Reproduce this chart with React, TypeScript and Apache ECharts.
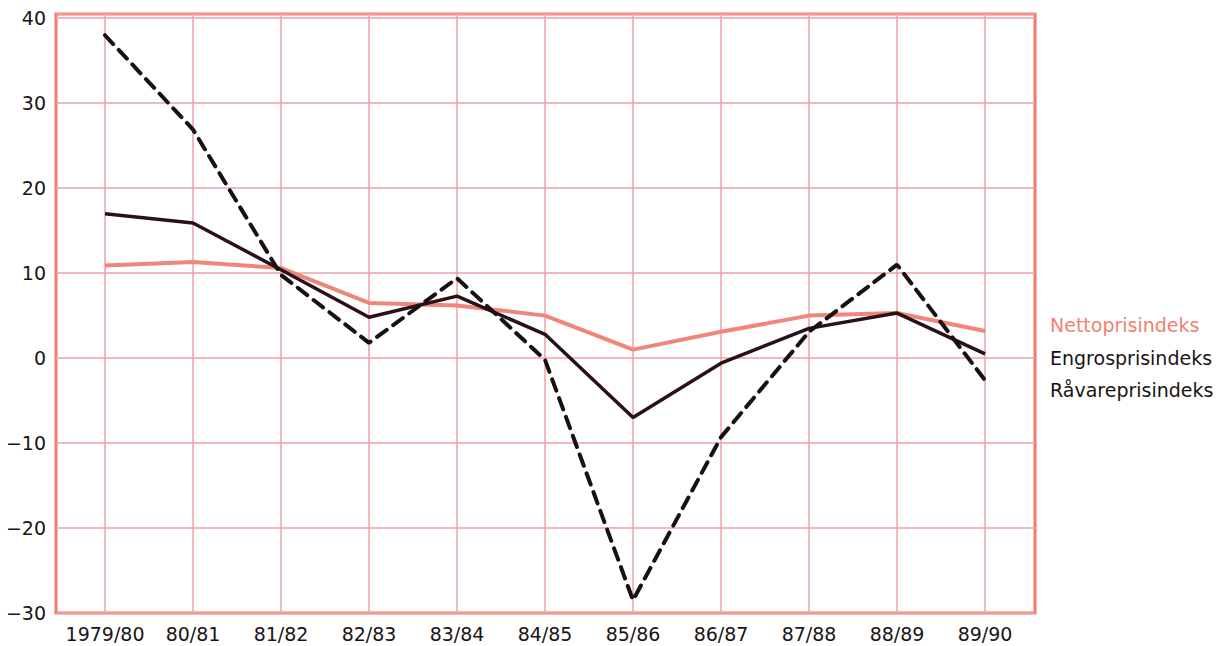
import React, { useEffect, useRef } from "react";
import * as echarts from "echarts";

const categories = ["1979/80", "80/81", "81/82", "82/83", "83/84", "84/85", "85/86", "86/87", "87/88", "88/89", "89/90"];
const nettoprisindeks = [10.9, 11.3, 10.6, 6.5, 6.2, 5.0, 1.0, 3.1, 5.0, 5.3, 3.2];
const engrosprisindeks = [17.0, 15.9, 10.4, 4.8, 7.3, 2.8, -7.0, -0.6, 3.5, 5.3, 0.5];
const raavareprisindeks = [38.0, 26.9, 9.8, 1.8, 9.4, -0.2, -28.5, -9.3, 3.1, 11.0, -2.6];
const seriesNames = ["Nettoprisindeks", "Engrosprisindeks", "Råvareprisindeks"];
const yTicks = [-30, -20, -10, 0, 10, 20, 30, 40];

const FONT = "'DejaVu Sans', sans-serif";

export default function App() {
  const ref = useRef<HTMLDivElement>(null);
  useEffect(() => {
    if (!ref.current) return;
    const chart = echarts.init(ref.current, undefined, { renderer: "svg" });
    const idx = categories.map((_, i) => i);
    const toPairs = (arr: number[]) => arr.map((v, i) => [i, v]);
    chart.setOption({
      animation: false,
      backgroundColor: "#ffffff",
      grid: {
        left: 56,
        right: 181,
        top: 14,
        bottom: 33,
        show: true,
        borderColor: "#f27a68",
        borderWidth: 3,
        backgroundColor: "transparent",
      },
      xAxis: {
        type: "value",
        min: -0.557,
        max: 10.568,
        axisLine: { show: false },
        axisTick: { show: false, customValues: idx },
        splitLine: { show: true, lineStyle: { color: "#eba3a6", width: 1.5 } },
        axisLabel: {
          customValues: idx,
          formatter: (v: number) => categories[Math.round(v)] ?? "",
          color: "#1a1414",
          fontSize: 19,
          fontFamily: FONT,
          margin: 11,
        },
      },
      yAxis: {
        type: "value",
        min: yTicks[0],
        max: 40.5,
        interval: 10,
        axisLine: { show: false },
        axisTick: { show: false },
        splitLine: { show: true, lineStyle: { color: "#eba3a6", width: 1.5 } },
        axisLabel: {
          showMaxLabel: false,
          formatter: (v: number) => (v < 0 ? "\u2212" + Math.abs(v) : String(v)),
          color: "#1a1414",
          fontSize: 19,
          fontFamily: FONT,
          margin: 10,
        },
      },
      legend: {
        orient: "vertical",
        left: 1040,
        top: 309,
        icon: "none",
        itemWidth: 0,
        itemHeight: 22,
        itemGap: 12,
        selectedMode: false,
        textStyle: { fontSize: 19, fontFamily: FONT, color: "#1a1414", padding: 0 },
        data: [
          { name: seriesNames[0], textStyle: { color: "#f08272" } },
          { name: seriesNames[1], textStyle: { color: "#1a1414" } },
          { name: seriesNames[2], textStyle: { color: "#1a1414" } },
        ],
      },
      series: [
        {
          name: seriesNames[0],
          type: "line",
          data: toPairs(nettoprisindeks),
          symbol: "none",
          lineStyle: { color: "#f0857a", width: 4 },
          itemStyle: { color: "#f0857a" },
          z: 2,
        },
        {
          name: seriesNames[1],
          type: "line",
          data: toPairs(engrosprisindeks),
          symbol: "none",
          lineStyle: { color: "#2a1018", width: 3.5 },
          itemStyle: { color: "#2a1018" },
          z: 3,
        },
        {
          name: seriesNames[2],
          type: "line",
          data: toPairs(raavareprisindeks),
          symbol: "none",
          lineStyle: { color: "#1a1010", width: 4, type: [12, 8], cap: "round" },
          itemStyle: { color: "#1a1010" },
          z: 4,
        },
      ],
    });
    return () => chart.dispose();
  }, []);
  return <div ref={ref} style={{ position: "fixed", left: 0, top: 0, width: 1216, height: 646 }} />;
}
